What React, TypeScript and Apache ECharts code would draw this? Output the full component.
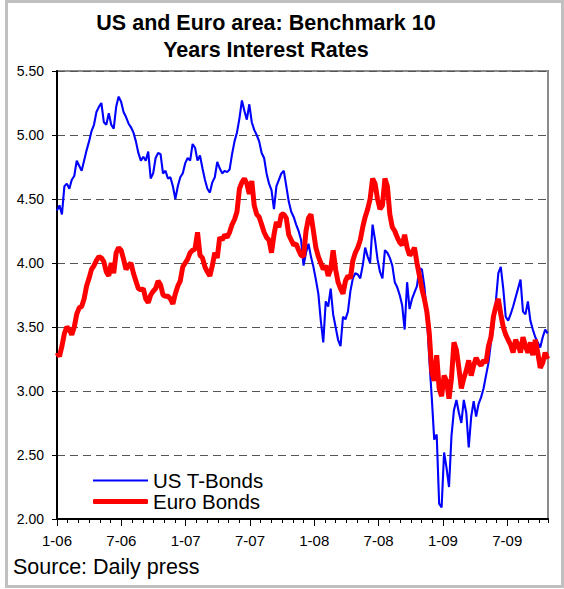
import React, { useEffect, useRef } from 'react';
import * as echarts from 'echarts';

// Weekly observations, first week of January 2006 onward
const usTBonds = [
  4.41, 4.45, 4.38, 4.60, 4.62, 4.58, 4.65, 4.68, 4.80, 4.76,
  4.72, 4.80, 4.88, 4.95, 5.03, 5.08, 5.18, 5.22, 5.25, 5.10,
  5.08, 5.17, 5.08, 5.05, 5.22, 5.30, 5.26, 5.18, 5.14, 5.09,
  5.06, 5.02, 4.95, 4.86, 4.80, 4.83, 4.80, 4.87, 4.66, 4.70,
  4.82, 4.86, 4.85, 4.70, 4.72, 4.66, 4.67, 4.60, 4.50, 4.60,
  4.67, 4.70, 4.78, 4.82, 4.80, 4.93, 4.90, 4.80, 4.84, 4.74,
  4.65, 4.58, 4.55, 4.63, 4.67, 4.79, 4.74, 4.70, 4.72, 4.71,
  4.73, 4.85, 4.95, 5.02, 5.13, 5.27, 5.19, 5.12, 5.24, 5.10,
  5.04, 5.00, 4.95, 4.86, 4.82, 4.70, 4.62, 4.57, 4.42, 4.60,
  4.65, 4.70, 4.72, 4.60, 4.48, 4.40, 4.36, 4.30, 4.25, 4.18,
  3.98, 4.08, 4.15, 4.05, 3.97, 3.87, 3.76, 3.55, 3.38, 3.70,
  3.66, 3.80, 3.60, 3.50, 3.40, 3.35, 3.58, 3.56, 3.62, 3.78,
  3.88, 3.92, 3.91, 3.88, 3.98, 4.12, 4.05, 4.00, 4.30, 4.18,
  4.03, 3.93, 3.88, 4.10, 4.08, 4.04, 3.98, 3.85, 3.81, 3.75,
  3.67, 3.48, 3.85, 3.64, 3.72, 3.77, 3.82, 3.96, 3.95, 3.82,
  3.60, 3.25, 2.95, 2.62, 2.66, 2.12, 2.09, 2.52, 2.40, 2.25,
  2.65, 2.85, 2.93, 2.83, 2.75, 2.93, 2.83, 2.56, 2.80, 2.92,
  2.80, 2.90, 2.95, 3.02, 3.12, 3.22, 3.38, 3.50, 3.70, 3.92,
  3.97, 3.80, 3.58, 3.55, 3.60, 3.66, 3.73, 3.80, 3.87, 3.62,
  3.60, 3.70, 3.55, 3.48, 3.42, 3.38, 3.34, 3.42, 3.48, 3.45,
];

const euroBonds = [
  3.30, 3.27, 3.35, 3.45, 3.50, 3.48, 3.44, 3.50, 3.60, 3.65,
  3.66, 3.72, 3.82, 3.88, 3.95, 3.98, 4.02, 4.05, 4.04, 4.01,
  3.93, 3.90, 4.00, 3.92, 4.08, 4.12, 4.10, 4.03, 3.95, 3.98,
  4.00, 3.92, 3.86, 3.80, 3.79, 3.80, 3.72, 3.69, 3.75, 3.78,
  3.80, 3.86, 3.83, 3.75, 3.74, 3.74, 3.72, 3.68, 3.76, 3.82,
  3.86, 3.97, 4.00, 4.03, 4.08, 4.10, 4.11, 4.24, 4.06, 4.04,
  3.97, 3.93, 3.90, 3.98, 4.08, 4.04, 4.20, 4.18, 4.22, 4.20,
  4.24, 4.30, 4.34, 4.40, 4.58, 4.63, 4.66, 4.62, 4.54, 4.64,
  4.45, 4.38, 4.36, 4.30, 4.24, 4.20, 4.18, 4.08, 4.22, 4.32,
  4.28, 4.38, 4.38, 4.35, 4.22, 4.18, 4.14, 4.15, 4.10, 4.06,
  4.05, 4.25, 4.35, 4.38, 4.25, 4.12, 4.05, 4.00, 3.95, 3.98,
  3.90, 3.95, 4.10, 3.95, 3.85, 3.80, 3.76, 3.86, 3.90, 3.88,
  4.02, 4.08, 4.12, 4.18, 4.28, 4.36, 4.42, 4.50, 4.66, 4.62,
  4.50, 4.42, 4.45, 4.66, 4.60, 4.38, 4.28, 4.25, 4.20, 4.16,
  4.14, 4.22, 4.12, 4.06, 4.08, 4.12, 4.00, 3.90, 3.80, 3.72,
  3.62, 3.45, 3.15, 3.08, 3.28, 3.02, 2.96, 3.12, 3.08, 2.94,
  3.10, 3.38, 3.32, 3.18, 3.02, 3.10, 3.16, 3.24, 3.12, 3.20,
  3.26, 3.22, 3.20, 3.24, 3.22, 3.35, 3.42, 3.58, 3.66, 3.72,
  3.60, 3.50, 3.44, 3.40, 3.36, 3.30, 3.40, 3.36, 3.30, 3.42,
  3.35, 3.30, 3.38, 3.28, 3.40, 3.30, 3.18, 3.22, 3.30, 3.25,
];

const seriesNames = ['US T-Bonds', 'Euro Bonds'];
const seriesColors = ['#0000ff', '#ff0000'];
const titleLines = ['US and Euro area: Benchmark 10', 'Years Interest Rates'];
const sourceText = 'Source: Daily press';

const WEEK_IN_MONTHS = 7 / 30.4375; // x axis measured in months from Jan 2006
const X_MAX_MONTHS = 45.8;
const Y_MIN = 2.0;
const Y_MAX = 5.5;
const Y_STEP = 0.5;

const FONT = '"Liberation Sans", Arial, Helvetica, sans-serif';

function monthLabel(v: number): string {
  const m = Math.round(v);
  const month = (m % 12) + 1;
  const year = 6 + Math.floor(m / 12);
  return `${month}-${String(year).padStart(2, '0')}`;
}

export default function App() {
  const ref = useRef<HTMLDivElement>(null);

  useEffect(() => {
    if (!ref.current) return;
    const chart = echarts.init(ref.current, null, { renderer: 'svg' });
    const toPairs = (arr: number[]) => arr.map((v, i) => [i * WEEK_IN_MONTHS, v]);

    const legendText = { fontSize: 20.5, color: '#000', fontFamily: FONT };

    chart.setOption({
      animation: false,
      backgroundColor: '#ffffff',
      textStyle: { fontFamily: FONT },
      grid: {
        left: 57,
        right: 16,
        top: 71,
        bottom: 70,
        show: true,
        borderColor: '#8a8a8a',
        borderWidth: 2,
        backgroundColor: 'transparent',
      },
      legend: [
        {
          data: [seriesNames[0]],
          left: 93,
          top: 470,
          padding: 0,
          icon: 'rect',
          itemWidth: 55,
          itemHeight: 2,
          textStyle: legendText,
        },
        {
          data: [seriesNames[1]],
          left: 93,
          top: 491,
          padding: 0,
          icon: 'roundRect',
          itemWidth: 55,
          itemHeight: 5,
          textStyle: legendText,
        },
      ],
      xAxis: [
        {
          type: 'value',
          min: 0,
          max: X_MAX_MONTHS,
          interval: 6,
          axisLine: { show: true, lineStyle: { color: '#000', width: 2 } },
          axisTick: { show: true, length: 7, lineStyle: { color: '#000', width: 1 } },
          axisLabel: {
            formatter: (v: number) => monthLabel(v),
            fontSize: 15,
            color: '#000',
            margin: 14,
            showMaxLabel: false,
            fontFamily: FONT,
          },
          splitLine: { show: false },
        },
        {
          type: 'value',
          min: 0,
          max: X_MAX_MONTHS,
          interval: 1,
          position: 'bottom',
          axisLine: { show: false },
          axisTick: { show: true, length: 4, lineStyle: { color: '#000', width: 1 } },
          axisLabel: { show: false },
          splitLine: { show: false },
        },
      ],
      yAxis: {
        type: 'value',
        min: Y_MIN,
        max: Y_MAX,
        interval: Y_STEP,
        axisLine: { show: true, lineStyle: { color: '#000', width: 2 } },
        axisTick: { show: true, length: 5, lineStyle: { color: '#000', width: 1 } },
        axisLabel: {
          formatter: (v: number) => v.toFixed(2),
          fontSize: 14,
          color: '#000',
          margin: 13,
          fontFamily: FONT,
        },
        splitLine: { show: true, lineStyle: { color: '#555', width: 1, type: [8, 5] } },
      },
      series: [
        {
          name: seriesNames[0],
          type: 'line',
          data: toPairs(usTBonds),
          symbol: 'none',
          showSymbol: false,
          lineStyle: { color: seriesColors[0], width: 2.1 },
          itemStyle: { color: seriesColors[0] },
          z: 2,
        },
        {
          name: seriesNames[1],
          type: 'line',
          data: toPairs(euroBonds),
          symbol: 'none',
          showSymbol: false,
          lineStyle: { color: seriesColors[1], width: 5 },
          itemStyle: { color: seriesColors[1] },
          z: 3,
        },
      ],
      graphic: [
        {
          type: 'rect',
          shape: { x: 6.5, y: 1.5, width: 556, height: 585 },
          style: { fill: 'none', stroke: '#c0c0c0', lineWidth: 3 },
          silent: true,
        },
        {
          type: 'text',
          x: 266,
          y: 23,
          style: {
            text: titleLines[0],
            fontSize: 21.5,
            fontWeight: 'bold',
            fontFamily: FONT,
            fill: '#000',
            align: 'center',
            verticalAlign: 'middle',
          },
        },
        {
          type: 'text',
          x: 266,
          y: 50,
          style: {
            text: titleLines[1],
            fontSize: 21.5,
            fontWeight: 'bold',
            fontFamily: FONT,
            fill: '#000',
            align: 'center',
            verticalAlign: 'middle',
          },
        },
        {
          type: 'text',
          x: 13,
          y: 567,
          style: {
            text: sourceText,
            fontSize: 21.5,
            fontFamily: FONT,
            fill: '#000',
            align: 'left',
            verticalAlign: 'middle',
          },
        },
      ],
    });

    return () => chart.dispose();
  }, []);

  return (
    <div
      ref={ref}
      style={{ position: 'fixed', left: 0, top: 0, width: 564, height: 589, background: '#fff' }}
    />
  );
}
